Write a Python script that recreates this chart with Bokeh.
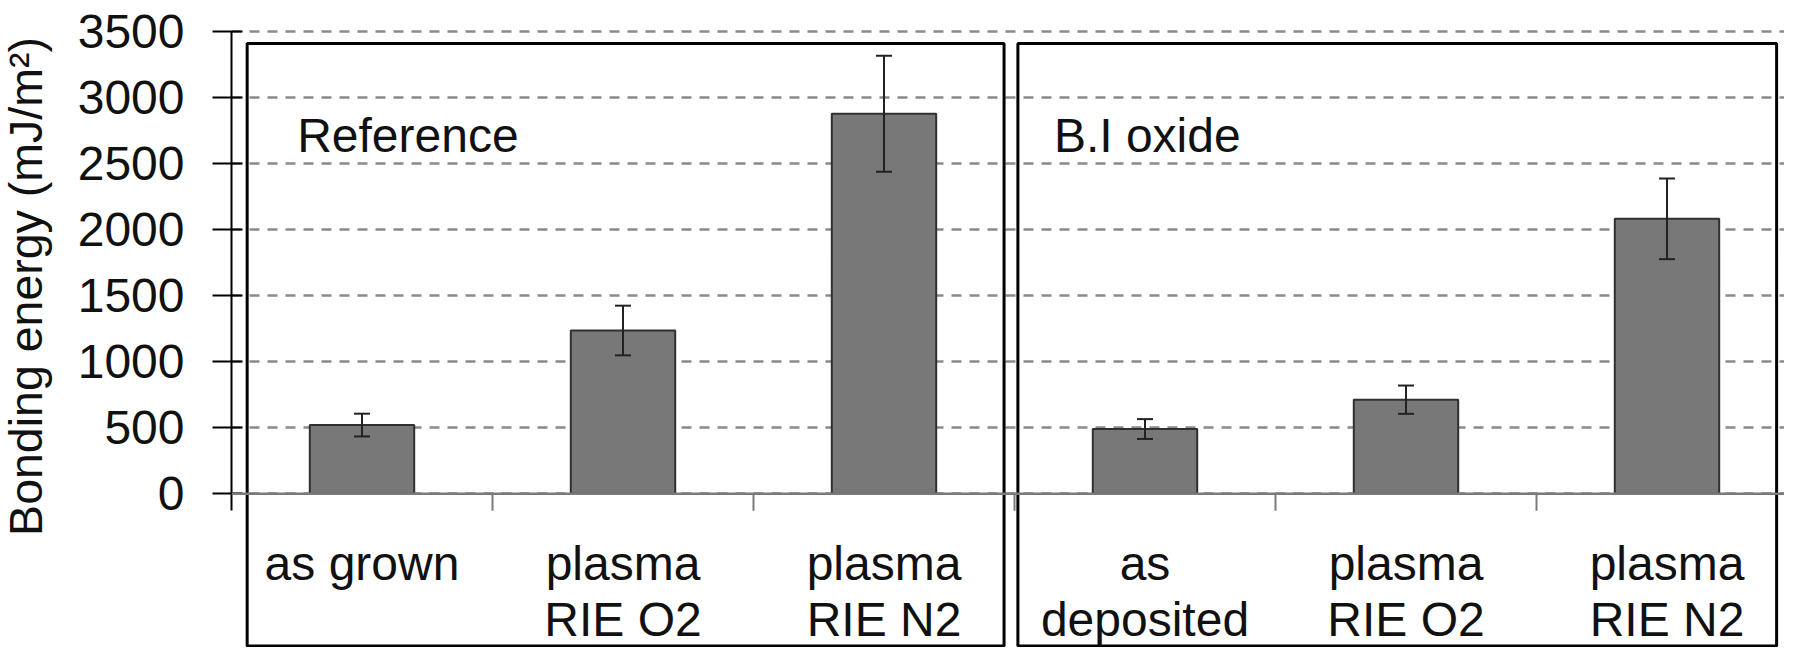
import math
from bokeh.plotting import figure
from bokeh.layouts import row
from bokeh.models import Range1d, FixedTicker, Span, Whisker, TeeHead, ColumnDataSource
from bokeh.embed import file_html
from bokeh.resources import INLINE
from bokeh.core.properties import value

# ---------------- data ----------------
categories = ["as grown", "plasma\nRIE O2", "plasma\nRIE N2",
              "as\ndeposited", "plasma\nRIE O2", "plasma\nRIE N2"]
panel_names = ["Reference", "B.I oxide"]
panel_of = [0, 0, 0, 1, 1, 1]
energy = [520, 1235, 2875, 490, 712, 2080]
error = [86, 188, 438, 75, 107, 305]
y_ticks = [0, 500, 1000, 1500, 2000, 2500, 3000, 3500]
y_title = "Bonding energy (mJ/m\u00b2)"

# ---------------- layout / style ----------------
FONT = "Liberation Sans"
FS = "48px"
TOTAL_W, H = 1784, 647
TW = 60                          # width of the strip holding the y title
W = TOTAL_W - TW
LEFT = 231 - TW                  # frame left inside main figure
PX_X = 261.0                     # px per category
PX_Y = 0.1322                    # px per mJ/m2
Y0_PX = 493.3                    # canvas y of value 0
x_start = -0.5
x_end = x_start + (W - LEFT) / PX_X
y_end = Y0_PX / PX_Y
y_start = -(H - Y0_PX) / PX_Y

def dy(px):
    return px / PX_Y

def dx(px):
    return px / PX_X

xs = list(range(len(categories)))

# ---- y title strip ----
ft = figure(width=TW, height=H, output_backend="svg", toolbar_location=None,
            x_range=Range1d(0, TW), y_range=Range1d(0, H),
            x_axis_location=None, y_axis_location=None, min_border=0)
ft.outline_line_color = None
ft.grid.visible = False
ft.text(x=[25.5], y=[H - 286], text=[y_title], angle=math.pi / 2,
        text_font=value(FONT), text_font_size="46.5px", text_color="#111111",
        text_align="center", text_baseline="middle")

# ---- main plot ----
p = figure(width=W, height=H, output_backend="svg", toolbar_location=None,
           x_range=Range1d(x_start, x_end), y_range=Range1d(y_start, y_end),
           x_axis_location=None, min_border_left=LEFT, min_border_right=0,
           min_border_top=0, min_border_bottom=0)
p.outline_line_color = None
p.background_fill_color = "white"
p.border_fill_color = "white"

# y axis
ax = p.yaxis[0]
ax.ticker = FixedTicker(ticks=y_ticks)
ax.major_label_overrides = {t: str(t) for t in y_ticks}
ax.bounds = (-dy(17), y_ticks[-1])
ax.axis_line_color = "black"
ax.axis_line_width = 2
ax.major_tick_line_color = "black"
ax.major_tick_line_width = 2
ax.major_tick_out = 19
ax.major_tick_in = 11
ax.minor_tick_line_color = None
ax.major_label_standoff = 28
ax.major_label_text_font = FONT
ax.major_label_text_font_size = FS
ax.major_label_text_color = "#111111"

# grid
p.xgrid.visible = False
p.ygrid.grid_line_color = "#8a8a8a"
p.ygrid.grid_line_dash = "10 8"
p.ygrid.grid_line_width = 2.5

# bars
p.vbar(x=xs, top=energy, width=0.4, fill_color="#787878",
       line_color="#303030", line_width=2)

# error bars
src = ColumnDataSource(dict(x=xs,
                            upper=[e + s for e, s in zip(energy, error)],
                            lower=[e - s for e, s in zip(energy, error)]))
wh = Whisker(base="x", upper="upper", lower="lower", source=src, level="overlay",
             line_color="#222222", line_width=2,
             upper_head=TeeHead(size=16, line_color="#222222", line_width=2),
             lower_head=TeeHead(size=16, line_color="#222222", line_width=2))
p.add_layout(wh)

# baseline at zero and category separator ticks
p.add_layout(Span(location=0, dimension="width", line_color="#7a7a7a", line_width=2.5))
bx = [x + 0.5 for x in xs]
p.segment(x0=bx, y0=[0] * len(bx), x1=bx, y1=[-dy(17)] * len(bx),
          line_color="#7a7a7a", line_width=2)

# panel boxes
pad_l = [0.44, 0.487]
pad_r = [0.46, 0.42]
box_l, box_r = [], []
for g in range(len(panel_names)):
    members = [x for x, pg in zip(xs, panel_of) if pg == g]
    box_l.append(min(members) - pad_l[g])
    box_r.append(max(members) + pad_r[g])
box_top = y_end - dy(43)
box_bot = y_start + dy(1.5)
p.quad(left=box_l, right=box_r, top=[box_top] * 2, bottom=[box_bot] * 2,
       fill_color=None, line_color="black", line_width=3)

# panel titles
title_x = [box_l[0] + dx(50), box_l[1] + dx(36)]
p.text(x=title_x, y=[y_end - dy(135)] * 2, text=panel_names,
       text_font=value(FONT), text_font_size=FS, text_color="#111111",
       text_align="left", text_baseline="alphabetic")

# category labels (one text row per line)
line1 = [c.split("\n")[0] for c in categories]
line2 = [c.split("\n")[1] if "\n" in c else "" for c in categories]
p.text(x=xs, y=[-dy(42.7)] * len(xs), text=line1,
       text_font=value(FONT), text_font_size=FS, text_color="#111111",
       text_align="center", text_baseline="top")
x2 = [x for x, t in zip(xs, line2) if t]
t2 = [t for t in line2 if t]
p.text(x=x2, y=[-dy(42.7 + 56)] * len(x2), text=t2,
       text_font=value(FONT), text_font_size=FS, text_color="#111111",
       text_align="center", text_baseline="top")

layout = row(ft, p)
open("out.html", "w").write(file_html(layout, INLINE))
